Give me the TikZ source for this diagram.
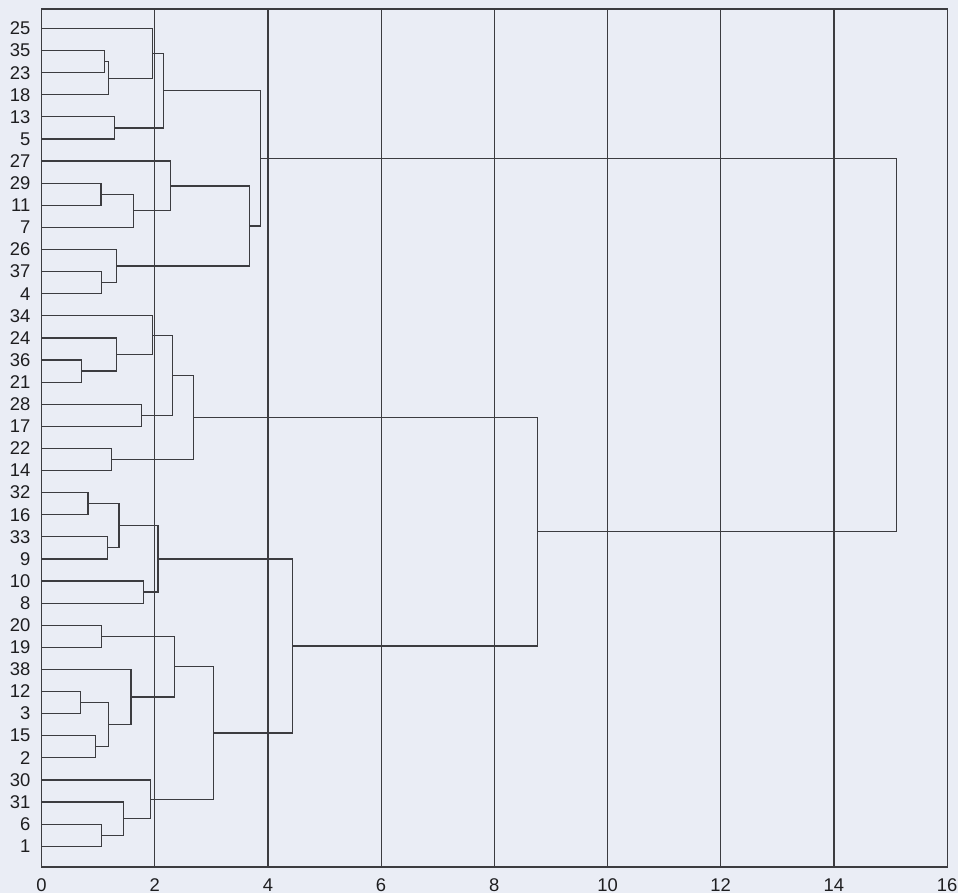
\documentclass[tikz,border=0pt]{standalone}
\usepackage{fontspec}
\setmainfont{Liberation Sans}
\definecolor{paper}{RGB}{234,237,245}
\definecolor{ink}{RGB}{60,60,64}
\definecolor{txt}{RGB}{30,30,32}
\newcommand\joinpair[3]{\draw[dend] (#2) -- (#2 -| #1) -- (#3 -| #1) -- (#3);}
\begin{document}
\begin{tikzpicture}[x=28.3pt,y=-11.05pt,
  dend/.style={draw=ink,line width=0.6pt},
  grid/.style={draw=ink,line width=0.6pt},
  leaflab/.style={anchor=east,inner sep=0pt,text=txt,font=\fontsize{9.2}{10}\selectfont},
  axlab/.style={anchor=center,inner sep=0pt,text=txt,font=\fontsize{9.2}{10}\selectfont}]
\fill[paper] (-0.7332,-1.2896) rectangle (16.1926,39.1176);
\useasboundingbox (-0.7332,-1.2896) rectangle (16.1926,39.1176);
% frame and grid
\coordinate (F0) at (0,-0.882);
\coordinate (F1) at (16,37.94);
\draw[grid] (F0) rectangle (F1);
\foreach \k in {2,4,...,14} {
  \coordinate (gt\k) at (\k,-0.882);
  \coordinate (gb\k) at (\k,37.94);
  \draw[grid] (gt\k) -- (gb\k);
}
\foreach \k in {0,2,...,16} {
  \node[axlab] (ax\k) at (\k,38.78) {\k};
}
% leaves
\foreach \lab [count=\i from 0] in {25,35,23,18,13,5,27,29,11,7,26,37,4,34,24,36,21,28,17,22,14,32,16,33,9,10,8,20,19,38,12,3,15,2,30,31,6,1} {
  \coordinate (L\lab) at (0,\i);
  \node[leaflab] (n\lab) at (-0.19,\i) {\lab};
}
% merges
\coordinate (a1) at (1.11,1.5);
\coordinate (a2) at (1.18,2.25);
\coordinate (a3) at (1.96,1.125);
\coordinate (a4) at (1.29,4.5);
\coordinate (A1) at (2.16,2.8125);
\coordinate (a5) at (1.05,7.5);
\coordinate (a6) at (1.63,8.25);
\coordinate (a7) at (2.28,7.125);
\coordinate (a8) at (1.06,11.5);
\coordinate (a9) at (1.32,10.75);
\coordinate (A2) at (3.67,8.9375);
\coordinate (AA) at (3.87,5.875);
\coordinate (b1) at (0.70,15.5);
\coordinate (b2) at (1.32,14.75);
\coordinate (b3) at (1.96,13.875);
\coordinate (b4) at (1.76,17.5);
\coordinate (b5) at (2.32,15.6875);
\coordinate (b6) at (1.23,19.5);
\coordinate (BB) at (2.69,17.59375);
\coordinate (c1) at (0.82,21.5);
\coordinate (c2) at (1.16,23.5);
\coordinate (c3) at (1.37,22.5);
\coordinate (c4) at (1.80,25.5);
\coordinate (C1) at (2.06,24);
\coordinate (d1) at (1.06,27.5);
\coordinate (d2) at (0.69,30.5);
\coordinate (d3) at (0.95,32.5);
\coordinate (d4) at (1.19,31.5);
\coordinate (d5) at (1.58,30.25);
\coordinate (d6) at (2.35,28.875);
\coordinate (e1) at (1.06,36.5);
\coordinate (e2) at (1.45,35.75);
\coordinate (e3) at (1.93,34.875);
\coordinate (C2) at (3.04,31.875);
\coordinate (CC) at (4.44,27.9375);
\coordinate (BC) at (8.77,22.765625);
\coordinate (RR) at (15.11,14.3203);
% connectors
\joinpair{a1}{L35}{L23}
\joinpair{a2}{a1}{L18}
\joinpair{a3}{L25}{a2}
\joinpair{a4}{L13}{L5}
\joinpair{A1}{a3}{a4}
\joinpair{a5}{L29}{L11}
\joinpair{a6}{a5}{L7}
\joinpair{a7}{L27}{a6}
\joinpair{a8}{L37}{L4}
\joinpair{a9}{L26}{a8}
\joinpair{A2}{a7}{a9}
\joinpair{AA}{A1}{A2}
\joinpair{b1}{L36}{L21}
\joinpair{b2}{L24}{b1}
\joinpair{b3}{L34}{b2}
\joinpair{b4}{L28}{L17}
\joinpair{b5}{b3}{b4}
\joinpair{b6}{L22}{L14}
\joinpair{BB}{b5}{b6}
\joinpair{c1}{L32}{L16}
\joinpair{c2}{L33}{L9}
\joinpair{c3}{c1}{c2}
\joinpair{c4}{L10}{L8}
\joinpair{C1}{c3}{c4}
\joinpair{d1}{L20}{L19}
\joinpair{d2}{L12}{L3}
\joinpair{d3}{L15}{L2}
\joinpair{d4}{d2}{d3}
\joinpair{d5}{L38}{d4}
\joinpair{d6}{d1}{d5}
\joinpair{e1}{L6}{L1}
\joinpair{e2}{L31}{e1}
\joinpair{e3}{L30}{e2}
\joinpair{C2}{d6}{e3}
\joinpair{CC}{C1}{C2}
\joinpair{BC}{BB}{CC}
\joinpair{RR}{AA}{BC}
\end{tikzpicture}
\end{document}
